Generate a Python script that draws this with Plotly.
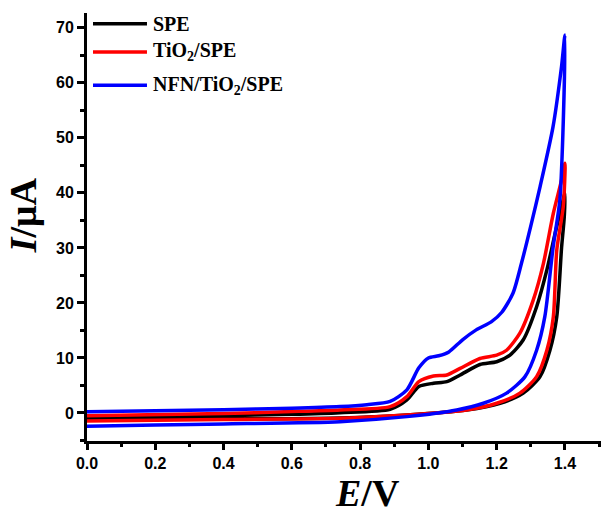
import plotly.graph_objects as go

# Cyclic voltammograms: forward sweep (0 -> 1.4 V) then reverse sweep back to 0 V
spe_e = [0.0, 0.4, 0.6, 0.741, 0.888, 0.937, 0.972, 1.015, 1.054, 1.093, 1.151, 1.2, 1.239,
         1.278, 1.317, 1.347, 1.371, 1.39, 1.40,
         1.398, 1.39, 1.376, 1.356, 1.327, 1.278, 1.21, 1.112, 0.937, 0.741, 0.4, 0.0]
spe_i = [-0.85, -0.5, -0.25, 0.05, 0.67, 2.36, 4.8, 5.4, 5.7, 6.9, 8.8, 9.3, 10.5,
         13.3, 19.3, 26.0, 32.6, 37.5, 40.0,
         35.7, 30.0, 17.5, 11.4, 6.6, 3.6, 1.76, 0.55, -0.36, -0.9, -1.1, -1.25]

tio2_e = [0.0, 0.4, 0.6, 0.741, 0.888, 0.937, 0.972, 1.015, 1.054, 1.093, 1.151, 1.2, 1.229,
          1.268, 1.307, 1.337, 1.366, 1.39, 1.40,
          1.395, 1.376, 1.366, 1.347, 1.317, 1.268, 1.2, 1.112, 0.937, 0.741, 0.4, 0.0]
tio2_i = [-0.5, -0.1, 0.25, 0.55, 1.14, 2.97, 5.7, 6.7, 6.9, 8.1, 9.9, 10.5, 11.4,
          14.5, 20.5, 27.2, 36.3, 42.3, 45.4,
          37.5, 29.6, 17.5, 11.4, 6.6, 3.6, 1.76, 0.55, -0.36, -0.97, -1.2, -1.45]

nfn_e = [0.0, 0.2, 0.4, 0.6, 0.741, 0.82, 0.888, 0.937, 0.972, 1.0, 1.03, 1.06, 1.10, 1.14,
         1.185, 1.215, 1.248, 1.273, 1.30, 1.327, 1.365, 1.39, 1.40,
         1.394, 1.385, 1.365, 1.341, 1.317, 1.283, 1.229, 1.161, 1.083, 0.937, 0.741,
         0.4, 0.2, 0.0]
nfn_i = [0.2, 0.4, 0.6, 0.85, 1.15, 1.5, 2.1, 4.2, 8.2, 10.0, 10.4, 11.1, 13.3, 15.1,
         16.6, 18.3, 21.8, 27.3, 34.0, 41.1, 52.0, 63.0, 68.7,
         50.9, 38.7, 30.0, 17.5, 11.4, 6.6, 3.6, 1.76, 0.55, -0.67, -1.58,
         -2.0, -2.2, -2.4]

series = [
    ("SPE", spe_e, spe_i, "#000000"),
    ("TiO<sub>2</sub>/SPE", tio2_e, tio2_i, "#ff0000"),
    ("NFN/TiO<sub>2</sub>/SPE", nfn_e, nfn_i, "#0000ff"),
]

fig = go.Figure()
for name, e, i, color in series:
    fig.add_trace(go.Scatter(x=e, y=i, mode="lines", name=name, showlegend=False,
                             line=dict(color=color, width=3.5, shape="spline", smoothing=0.7)))

# hand-made legend, so the sample lines can be as long as in the original
legend_y = [0.975, 0.909, 0.831]
for (name, _, _, color), ly in zip(series, legend_y):
    fig.add_shape(type="line", xref="paper", yref="paper", x0=0.0115, x1=0.1149, y0=ly, y1=ly,
                  line=dict(color=color, width=3.5))
    fig.add_annotation(x=0.1226, y=ly, xref="paper", yref="paper", text=name, showarrow=False,
                       xanchor="left", yanchor="middle",
                       font=dict(family="Liberation Serif", size=20, color="black", weight="bold"))

axis_font = dict(family="Liberation Sans", size=16, color="black", weight="bold")
fig.update_xaxes(range=[0, 1.529], dtick=0.2, tick0=0, tickformat=".1f",
                 showline=True, linewidth=3, linecolor="black", showgrid=False, zeroline=False,
                 ticks="outside", ticklen=6, tickwidth=3, tickcolor="black", tickfont=axis_font,
                 minor=dict(ticks="outside", ticklen=3, tickwidth=2.5, tickcolor="black", dtick=0.1))
fig.update_yaxes(range=[-5.1, 72.7], dtick=10, tick0=0,
                 showline=True, linewidth=3, linecolor="black", showgrid=False, zeroline=False,
                 ticks="outside", ticklen=7, tickwidth=3, tickcolor="black", tickfont=axis_font,
                 minor=dict(ticks="outside", ticklen=4, tickwidth=2.5, tickcolor="black", dtick=5))

title_font = dict(family="Liberation Serif", size=38, color="black", weight="bold")
fig.add_annotation(x=0.537, y=-0.122, xref="paper", yref="paper", text="<i>E</i>/V",
                   showarrow=False, xanchor="center", yanchor="middle", font=title_font)
fig.add_annotation(x=-0.121, y=0.527, xref="paper", yref="paper", text="<i>I</i>/μA",
                   showarrow=False, xanchor="center", yanchor="middle", textangle=-90,
                   font=title_font)

# the page body adds an 8px margin, so the figure is 8px smaller on each side
fig.update_layout(width=601, height=501, margin=dict(l=79, r=0, t=5, b=68),
                  paper_bgcolor="white", plot_bgcolor="white", showlegend=False)

fig.write_html("out.html")
